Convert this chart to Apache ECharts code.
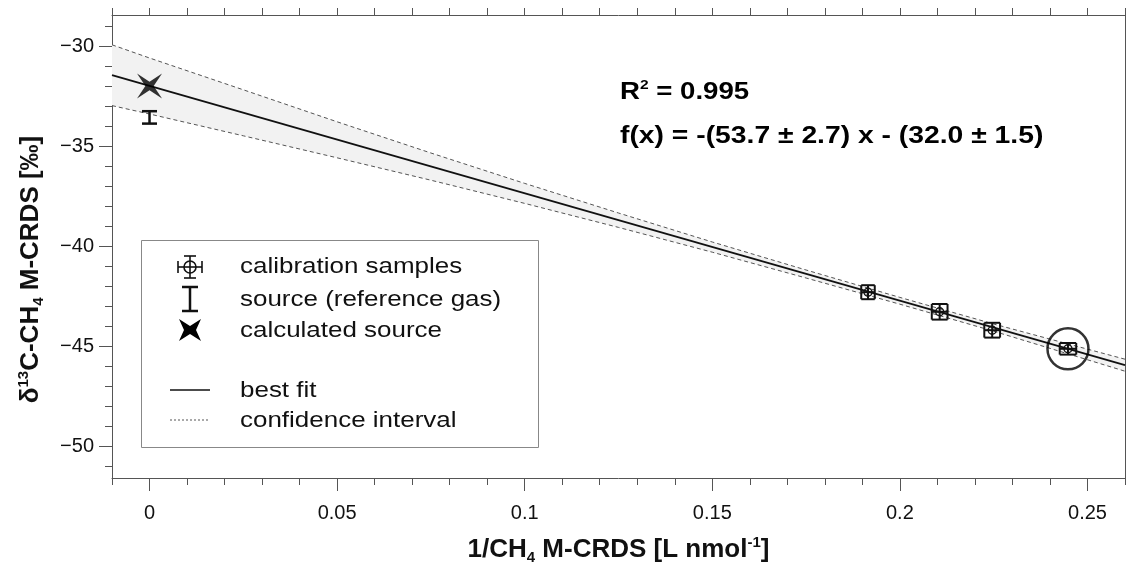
<!DOCTYPE html>
<html>
<head>
<meta charset="utf-8">
<script src="https://cdn.jsdelivr.net/npm/echarts@6/dist/echarts.min.js"></script>
<style>
html,body{margin:0;padding:0;background:#fff;}
#chart{width:1126px;height:562px;}
</style>
</head>
<body>
<div id="chart"></div>
<script>
// ---- data ----
const xTickLabels = [0, 0.05, 0.1, 0.15, 0.2, 0.25];
const xMinorTicks = [-0.01, 0, 0.01, 0.02, 0.03, 0.04, 0.05, 0.06, 0.07, 0.08, 0.09, 0.1, 0.11, 0.12, 0.13, 0.14, 0.15, 0.16, 0.17, 0.18, 0.19, 0.2, 0.21, 0.22, 0.23, 0.24, 0.25, 0.26];
const yTickLabels = [-50, -45, -40, -35, -30];
const yMinorTicks = [-51, -50, -49, -48, -47, -46, -45, -44, -43, -42, -41, -40, -39, -38, -37, -36, -35, -34, -33, -32, -31, -30, -29];

const calibX = [0.1915, 0.2106, 0.2246, 0.2448];
const calibY = [-42.31, -43.29, -44.21, -45.14];
const calibXErr = [0.0018, 0.0021, 0.0021, 0.0022];
const calibYErr = [0.35, 0.39, 0.37, 0.29];
const circledIndex = 3;

const sourceX = [0];
const sourceY = [-33.57];
const sourceYErr = [0.31];

const calcX = [0];
const calcY = [-32.0];

const fitX = [-0.01, 0.26];
const fitY = [-31.46, -45.96];

const bandX = [-0.01, 0, 0.025, 0.05, 0.075, 0.1, 0.125, 0.15, 0.175, 0.2, 0.225, 0.26];
const bandUpper = [-29.94, -30.60, -32.19, -33.79, -35.35, -36.87, -38.35, -39.80, -41.20, -42.57, -43.90, -45.66];
const bandLower = [-32.98, -33.40, -34.49, -35.59, -36.71, -37.87, -39.07, -40.31, -41.60, -42.91, -44.26, -46.26];

// ---- chart ----
const FONT = '"Liberation Sans", Arial, sans-serif';
const AX = '#555';
const X_MIN = -0.01, X_MAX = 0.26, Y_MIN = -51.6, Y_MAX = -28.45;
const TXT_STRETCH = 1.18;

const chart = echarts.init(document.getElementById('chart'), null, {renderer: 'canvas'});

const starPath = 'path://M0,0 L12,8 L24,0 L16,12 L24,24 L12,16 L0,24 L8,12 Z';

function errBarItem(params, api) {
  const x = api.value(0), y = api.value(1), xe = api.value(2), ye = api.value(3);
  const c = api.coord([x, y]);
  const l = api.coord([x - xe, y]);
  const r = api.coord([x + xe, y]);
  const t = api.coord([x, y + ye]);
  const b = api.coord([x, y - ye]);
  const hx = (r[0] - l[0]) / 2;
  const hy = (b[1] - t[1]) / 2;
  const st = {stroke: '#111', lineWidth: 2, fill: null};
  return {
    type: 'group',
    children: [
      {type: 'line', shape: {x1: t[0], y1: t[1], x2: b[0], y2: b[1]}, style: st},
      {type: 'line', shape: {x1: t[0] - hx, y1: t[1], x2: t[0] + hx, y2: t[1]}, style: st},
      {type: 'line', shape: {x1: b[0] - hx, y1: b[1], x2: b[0] + hx, y2: b[1]}, style: st},
      {type: 'line', shape: {x1: l[0], y1: l[1], x2: r[0], y2: r[1]}, style: st},
      {type: 'line', shape: {x1: l[0], y1: l[1] - hy, x2: l[0], y2: l[1] + hy}, style: st},
      {type: 'line', shape: {x1: r[0], y1: r[1] - hy, x2: r[0], y2: r[1] + hy}, style: st},
      {type: 'circle', shape: {cx: c[0], cy: c[1], r: 4}, style: {stroke: '#111', lineWidth: 1.4, fill: null}}
    ]
  };
}

function iBarItem(params, api) {
  const x = api.value(0), y = api.value(1), ye = api.value(2);
  const t = api.coord([x, y + ye]);
  const b = api.coord([x, y - ye]);
  const cap = 7.5;
  const st = {stroke: '#111', lineWidth: 2.5};
  return {
    type: 'group',
    children: [
      {type: 'line', shape: {x1: t[0], y1: t[1], x2: b[0], y2: b[1]}, style: st},
      {type: 'line', shape: {x1: t[0] - cap, y1: t[1], x2: t[0] + cap, y2: t[1]}, style: st},
      {type: 'line', shape: {x1: b[0] - cap, y1: b[1], x2: b[0] + cap, y2: b[1]}, style: st}
    ]
  };
}

function bandItem(params, api) {
  const pts = [];
  for (let i = 0; i < bandX.length; i++) pts.push(api.coord([bandX[i], bandUpper[i]]));
  for (let i = bandX.length - 1; i >= 0; i--) pts.push(api.coord([bandX[i], bandLower[i]]));
  return {type: 'polygon', shape: {points: pts}, style: {fill: '#f2f2f2', stroke: null}};
}

const titleRich = {
  b: {fontFamily: FONT, fontWeight: 'bold', fontSize: 26, color: '#111', lineHeight: 30},
  sup: {fontFamily: FONT, fontWeight: 'bold', fontSize: 15, color: '#111', verticalAlign: 'top', lineHeight: 16},
  sub: {fontFamily: FONT, fontWeight: 'bold', fontSize: 15, color: '#111', verticalAlign: 'bottom', lineHeight: 14}
};

const eqRich = {
  b: {fontFamily: FONT, fontWeight: 'bold', fontSize: 23, color: '#111', lineHeight: 28},
  sup: {fontFamily: FONT, fontWeight: 'bold', fontSize: 13, color: '#111', verticalAlign: 'top', lineHeight: 16}
};

const LX = 190;
const legendText = (txt, y) => ({
  type: 'text', x: 240, y: y, scaleX: TXT_STRETCH,
  style: {text: txt, fontFamily: FONT, fontSize: 22, fill: '#111', verticalAlign: 'middle', align: 'left'}
});
const lst = {stroke: '#111', lineWidth: 1.6, fill: null};

const option = {
  animation: false,
  backgroundColor: '#fff',
  grid: {left: 112, right: 1, top: 15, bottom: 84, containLabel: false, outerBoundsMode: 'none'},
  xAxis: [
    {
      type: 'value', position: 'bottom', min: X_MIN, max: X_MAX,
      name: '{b|1/CH}{sub|4}{b| M-CRDS [L nmol}{sup|-1}{b|]}',
      nameLocation: 'middle', nameGap: 57,
      nameTextStyle: {rich: titleRich},
      axisLine: {show: true, onZero: false, lineStyle: {color: AX, width: 1}},
      axisTick: {show: true, inside: false, length: 13, lineStyle: {color: AX}, customValues: xTickLabels},
      axisLabel: {show: true, margin: 25, fontFamily: FONT, fontSize: 20, color: '#111', customValues: xTickLabels,
        formatter: v => String(+(+v).toFixed(2))},
      splitLine: {show: false}
    },
    {
      type: 'value', position: 'bottom', min: X_MIN, max: X_MAX,
      axisLine: {show: false, onZero: false},
      axisTick: {show: true, inside: false, length: 7, lineStyle: {color: AX}, customValues: xMinorTicks},
      axisLabel: {show: false},
      splitLine: {show: false}
    },
    {
      type: 'value', position: 'top', min: X_MIN, max: X_MAX,
      axisLine: {show: true, onZero: false, lineStyle: {color: AX, width: 1}},
      axisTick: {show: true, inside: false, length: 7, lineStyle: {color: AX}, customValues: xMinorTicks},
      axisLabel: {show: false},
      splitLine: {show: false}
    }
  ],
  yAxis: [
    {
      type: 'value', position: 'left', min: Y_MIN, max: Y_MAX,
      name: '{b|δ}{sup|13}{b|C-CH}{sub|4}{b| M-CRDS [‰]}',
      nameLocation: 'middle', nameGap: 66, nameRotate: 90,
      nameTextStyle: {rich: titleRich, padding: [0, 46, 0, 0]},
      axisLine: {show: true, onZero: false, lineStyle: {color: AX, width: 1}},
      axisTick: {show: true, inside: false, length: 13, lineStyle: {color: AX}, customValues: yTickLabels},
      axisLabel: {show: true, margin: 18, fontFamily: FONT, fontSize: 20, color: '#111', customValues: yTickLabels,
        formatter: v => (v < 0 ? '\u2212' : '') + Math.abs(v)},
      splitLine: {show: false}
    },
    {
      type: 'value', position: 'left', min: Y_MIN, max: Y_MAX,
      axisLine: {show: false, onZero: false},
      axisTick: {show: true, inside: false, length: 7, lineStyle: {color: AX}, customValues: yMinorTicks},
      axisLabel: {show: false},
      splitLine: {show: false}
    },
    {
      type: 'value', position: 'right', min: Y_MIN, max: Y_MAX,
      axisLine: {show: true, onZero: false, lineStyle: {color: AX, width: 1}},
      axisTick: {show: false},
      axisLabel: {show: false},
      splitLine: {show: false}
    }
  ],
  series: [
    {
      name: 'confidence band', type: 'custom', renderItem: bandItem,
      data: [[bandX[0], bandUpper[0]]], silent: true, z: 1
    },
    {
      name: 'confidence interval upper', type: 'line', symbol: 'none', silent: true, z: 2,
      data: bandX.map((x, i) => [x, bandUpper[i]]),
      lineStyle: {color: '#555', width: 1, type: [4, 3]}
    },
    {
      name: 'confidence interval lower', type: 'line', symbol: 'none', silent: true, z: 2,
      data: bandX.map((x, i) => [x, bandLower[i]]),
      lineStyle: {color: '#555', width: 1, type: [4, 3]}
    },
    {
      name: 'best fit', type: 'line', symbol: 'none', silent: true, z: 3,
      data: fitX.map((x, i) => [x, fitY[i]]),
      lineStyle: {color: '#111', width: 1.8}
    },
    {
      name: 'calibration samples', type: 'custom', renderItem: errBarItem, z: 4,
      data: calibX.map((x, i) => [x, calibY[i], calibXErr[i], calibYErr[i]])
    },
    {
      name: 'source (reference gas)', type: 'custom', renderItem: iBarItem, z: 4,
      data: sourceX.map((x, i) => [x, sourceY[i], sourceYErr[i]])
    },
    {
      name: 'calculated source', type: 'scatter', z: 5,
      symbol: starPath, symbolSize: 25,
      itemStyle: {color: '#000'},
      data: calcX.map((x, i) => [x, calcY[i]])
    },
    {
      name: 'highlight', type: 'scatter', z: 5, silent: true,
      symbol: 'circle', symbolSize: 41,
      itemStyle: {color: 'rgba(0,0,0,0)', borderColor: '#000', borderWidth: 2.5},
      data: [[calibX[circledIndex], calibY[circledIndex]]]
    }
  ],
  graphic: [
    {
      type: 'text', x: 620, y: 93, z: 10, scaleX: 1.2,
      style: {text: '{b|R}{sup|2}{b| = 0.995}', rich: eqRich, verticalAlign: 'middle', align: 'left'}
    },
    {
      type: 'text', x: 620, y: 137, z: 10, scaleX: 1.23,
      style: {text: '{b|f(x) = -(53.7 ± 2.7) x - (32.0 ± 1.5)}', rich: eqRich, verticalAlign: 'middle', align: 'left'}
    },
    {
      type: 'group', z: 10,
      children: [
        {type: 'rect', shape: {x: 141.5, y: 240.5, width: 397, height: 207}, style: {fill: '#fff', stroke: '#888', lineWidth: 1}},
        {type: 'line', shape: {x1: LX, y1: 256, x2: LX, y2: 278}, style: lst},
        {type: 'line', shape: {x1: LX - 6, y1: 256, x2: LX + 6, y2: 256}, style: lst},
        {type: 'line', shape: {x1: LX - 6, y1: 278, x2: LX + 6, y2: 278}, style: lst},
        {type: 'line', shape: {x1: LX - 12, y1: 267, x2: LX + 12, y2: 267}, style: lst},
        {type: 'line', shape: {x1: LX - 12, y1: 261, x2: LX - 12, y2: 273}, style: lst},
        {type: 'line', shape: {x1: LX + 12, y1: 261, x2: LX + 12, y2: 273}, style: lst},
        {type: 'circle', shape: {cx: LX, cy: 267, r: 6}, style: lst},
        legendText('calibration samples', 267),
        {type: 'line', shape: {x1: LX, y1: 287, x2: LX, y2: 311}, style: {stroke: '#111', lineWidth: 2.5}},
        {type: 'line', shape: {x1: LX - 8, y1: 287, x2: LX + 8, y2: 287}, style: {stroke: '#111', lineWidth: 2.5}},
        {type: 'line', shape: {x1: LX - 8, y1: 311, x2: LX + 8, y2: 311}, style: {stroke: '#111', lineWidth: 2.5}},
        legendText('source (reference gas)', 300),
        {type: 'polygon', shape: {points: [[LX - 11, 319], [LX, 326], [LX + 11, 319], [LX + 6, 330], [LX + 11, 341], [LX, 334], [LX - 11, 341], [LX - 6, 330]]}, style: {fill: '#000'}},
        legendText('calculated source', 331),
        {type: 'line', shape: {x1: 170, y1: 390, x2: 210, y2: 390}, style: {stroke: '#111', lineWidth: 1.6}},
        legendText('best fit', 391),
        {type: 'line', shape: {x1: 170, y1: 420, x2: 210, y2: 420}, style: {stroke: '#555', lineWidth: 1, lineDash: [2, 2]}},
        legendText('confidence interval', 421)
      ]
    }
  ]
};

chart.setOption(option);
</script>
</body>
</html>
